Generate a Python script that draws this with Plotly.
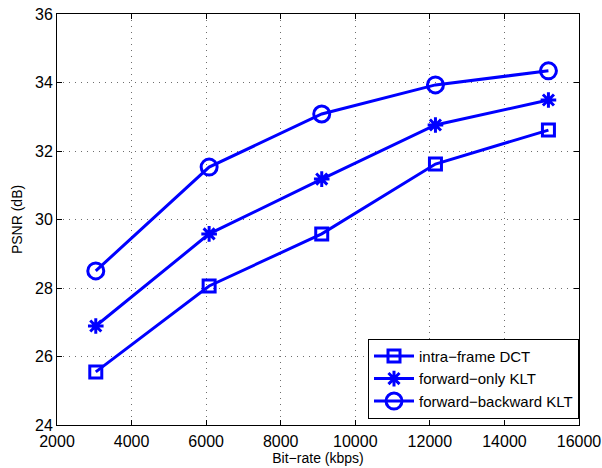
import plotly.graph_objects as go

bitrate = [3040, 6080, 9100, 12150, 15180]
psnr_dct = [25.55, 28.06, 29.58, 31.62, 32.61]
psnr_fwd = [26.89, 29.58, 31.18, 32.76, 33.49]
psnr_fb = [28.50, 31.53, 33.08, 33.93, 34.34]
names = ["intra\u2212frame DCT", "forward\u2212only KLT", "forward\u2212backward KLT"]

blue = "rgb(0,0,255)"
fig = go.Figure()
series = [(psnr_dct, "square-open", 12), (psnr_fwd, "asterisk-open", 13), (psnr_fb, "circle-open", 16)]
for (vals, sym, sz), nm in zip(series, names):
    fig.add_trace(go.Scatter(
        x=bitrate, y=vals, name=nm, mode="lines+markers",
        line=dict(color=blue, width=3),
        marker=dict(symbol=sym, size=sz, color=blue, line=dict(color=blue, width=3)),
    ))

font = dict(family="Liberation Sans, Arial, sans-serif", size=16, color="black")
lfont = dict(family="Liberation Sans, Arial, sans-serif", size=14, color="black")
legfont = dict(family="Liberation Sans, Arial, sans-serif", size=15, color="black")
axis_common = dict(
    showline=True, linecolor="black", linewidth=1, mirror="ticks",
    ticks="inside", ticklen=5, tickcolor="black",
    showgrid=True, gridcolor="rgb(110,110,110)", griddash="1px,5px", gridwidth=1,
    zeroline=False, tickfont=font, automargin=False,
)
fig.update_layout(
    width=602, height=468,
    margin=dict(l=57, r=23, t=14, b=43),
    paper_bgcolor="white", plot_bgcolor="white",
    font=font,
    xaxis=dict(range=[2000, 16000], dtick=2000, tick0=2000, tickformat="d",
               ticklabelstandoff=2,
               title=dict(text="Bit\u2212rate (kbps)", font=lfont, standoff=0), **axis_common),
    yaxis=dict(range=[24, 36], dtick=2, tickformat="d",
               title=dict(text="PSNR (dB)", font=lfont, standoff=9), **axis_common),
    legend=dict(x=1, xanchor="right", y=0.015, yanchor="bottom",
                bordercolor="black", borderwidth=1, bgcolor="white",
                font=legfont, tracegroupgap=0, itemwidth=40),
    showlegend=True,
)
fig.write_html("out.html", config={"displayModeBar": False},
               post_script="document.body.style.margin='0';document.body.style.overflow='hidden';")
